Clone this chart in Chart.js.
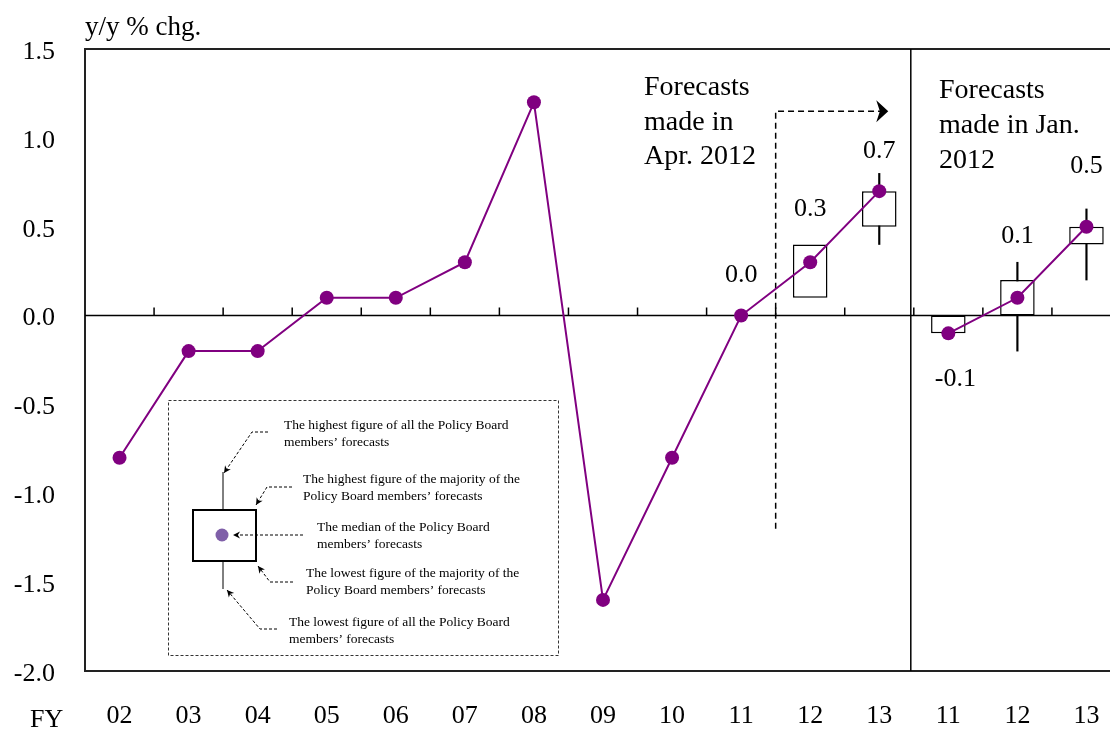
<!DOCTYPE html>
<html>
<head>
<meta charset="utf-8">
<script src="https://cdn.jsdelivr.net/npm/chart.js@4.4.0/dist/chart.umd.min.js"></script>
<style>
  html, body { margin: 0; padding: 0; background: #fff; overflow: hidden; }
  #wrap { width: 1121px; height: 731px; }
  #cpiChart { display: block; }
</style>
</head>
<body>
<div id="wrap"><canvas id="cpiChart" width="1121" height="731"></canvas></div>
<script>
// fiscal years (the last three are the Jan. 2012 forecasts)
const fiscalYears = ['02', '03', '04', '05', '06', '07', '08', '09', '10', '11', '12', '13', '11', '12', '13'];

// y/y % chg.: actuals, then medians of the Apr. 2012 forecasts
const aprMedian = [-0.8, -0.2, -0.2, 0.1, 0.1, 0.3, 1.2, -1.6, -0.8, 0.0, 0.3, 0.7, null, null, null];
// medians of the Jan. 2012 forecasts
const janMedian = [null, null, null, null, null, null, null, null, null, null, null, null, -0.1, 0.1, 0.5];

// range of the majority of the board members (box)
const majorityRange = [null, null, null, null, null, null, null, null, null, null,
  [0.1, 0.4], [0.5, 0.7], [-0.1, 0.0], [0.0, 0.2], [0.4, 0.5]];
// highest / lowest of all the board members (whisker)
const fullRange = [null, null, null, null, null, null, null, null, null, null,
  null, [0.4, 0.8], null, [-0.2, 0.3], [0.2, 0.6]];

// points that carry a value label
const labelled = [9, 10, 11, 12, 13, 14];

const yMin = -2.0, yMax = 1.5, yStep = 0.5;

// styling
const purple = '#800080';
const serif = "'Liberation Serif', 'Times New Roman', serif";
// how far the value label baseline sits above (+) or below (-) its point, px
const labelLift = { 9: 34, 10: 46, 11: 33, 12: -53, 13: 55, 14: 54 };

const keyLines = [
  ['The highest figure of all the Policy Board', 'members\u2019 forecasts'],
  ['The highest figure of the majority of the', 'Policy Board members\u2019 forecasts'],
  ['The median of the Policy Board', 'members\u2019 forecasts'],
  ['The lowest figure of the majority of the', 'Policy Board members\u2019 forecasts'],
  ['The lowest figure of all the Policy Board', 'members\u2019 forecasts']
];
const keyTextPos = [[116, 29], [135, 83], [149, 131], [138, 177], [121, 226]];
const keyArrows = [
  [[100, 32], [84, 32], [56, 73]],
  [[124, 87], [99, 87], [88, 105]],
  [[135, 135], [65, 135]],
  [[125, 182], [102, 182], [90, 166]],
  [[109, 229], [92, 229], [59, 190]]
];

function arrowHead(ctx, from, to, len, w) {
  const ang = Math.atan2(to[1] - from[1], to[0] - from[0]);
  ctx.save();
  ctx.translate(to[0], to[1]);
  ctx.rotate(ang);
  ctx.beginPath();
  ctx.moveTo(0, 0);
  ctx.lineTo(-len, -w);
  ctx.lineTo(-len * 0.7, 0);
  ctx.lineTo(-len, w);
  ctx.closePath();
  ctx.fill();
  ctx.restore();
}

function drawKey(ctx, ox, oy) {
  ctx.save();
  ctx.translate(ox, oy);
  ctx.strokeStyle = '#333';
  ctx.lineWidth = 1;
  ctx.setLineDash([3, 2]);
  ctx.strokeRect(0.5, 0.5, 390, 255);
  ctx.setLineDash([]);

  // sample box and whiskers
  ctx.strokeStyle = '#000';
  ctx.lineWidth = 1;
  ctx.beginPath();
  ctx.moveTo(55, 72); ctx.lineTo(55, 110);
  ctx.moveTo(55, 161); ctx.lineTo(55, 189);
  ctx.stroke();
  ctx.lineWidth = 2;
  ctx.strokeRect(25, 110, 63, 51);
  ctx.fillStyle = '#7f5fa8';
  ctx.beginPath();
  ctx.arc(54, 135, 6.5, 0, Math.PI * 2);
  ctx.fill();

  // dashed pointers
  ctx.strokeStyle = '#000';
  ctx.fillStyle = '#000';
  ctx.lineWidth = 1;
  keyArrows.forEach(pts => {
    ctx.setLineDash([3, 2]);
    ctx.beginPath();
    ctx.moveTo(pts[0][0], pts[0][1]);
    for (let i = 1; i < pts.length; i++) ctx.lineTo(pts[i][0], pts[i][1]);
    ctx.stroke();
    ctx.setLineDash([]);
    arrowHead(ctx, pts[pts.length - 2], pts[pts.length - 1], 7, 3.5);
  });

  // texts
  ctx.fillStyle = '#000';
  ctx.font = '13.5px ' + serif;
  ctx.textAlign = 'left';
  ctx.textBaseline = 'alphabetic';
  keyLines.forEach((lines, i) => {
    const [tx, ty] = keyTextPos[i];
    ctx.fillText(lines[0], tx, ty);
    ctx.fillText(lines[1], tx, ty + 17);
  });
  ctx.restore();
}

const decorations = {
  id: 'decorations',
  beforeDatasetsDraw(chart) {
    const { ctx, chartArea: a, scales: { x, y } } = chart;
    const half = (x.getPixelForValue(1) - x.getPixelForValue(0)) / 2;
    const y0 = y.getPixelForValue(0);
    ctx.save();

    // frame (no right edge, the plot runs off the page)
    ctx.strokeStyle = '#222';
    ctx.lineWidth = 2;
    ctx.beginPath();
    ctx.moveTo(a.right, a.top);
    ctx.lineTo(a.left, a.top);
    ctx.lineTo(a.left, a.bottom);
    ctx.lineTo(a.right, a.bottom);
    ctx.stroke();

    // zero line with tick marks between years
    ctx.strokeStyle = '#000';
    ctx.lineWidth = 1.5;
    ctx.beginPath();
    ctx.moveTo(a.left, y0);
    ctx.lineTo(a.right, y0);
    for (let i = 0; i < fiscalYears.length - 1; i++) {
      const bx = x.getPixelForValue(i) + half;
      ctx.moveTo(bx, y0);
      ctx.lineTo(bx, y0 - 8);
    }
    ctx.stroke();

    // divider between Apr. and Jan. forecasts
    const dx = x.getPixelForValue(11) + half - 3;
    ctx.beginPath();
    ctx.moveTo(dx, a.top);
    ctx.lineTo(dx, a.bottom);
    ctx.stroke();

    // dashed arrow: start of the forecast period
    const fx = x.getPixelForValue(9) + half;
    const fy = y.getPixelForValue(1.15);
    const tipX = x.getPixelForValue(11) + 9;
    ctx.setLineDash([6, 4]);
    ctx.lineWidth = 1.5;
    ctx.beginPath();
    ctx.moveTo(fx, y.getPixelForValue(-1.2));
    ctx.lineTo(fx, fy);
    ctx.lineTo(tipX - 8, fy);
    ctx.stroke();
    ctx.setLineDash([]);
    ctx.fillStyle = '#000';
    arrowHead(ctx, [fx, fy], [tipX, fy], 12, 11);
    ctx.restore();
  },
  afterDatasetsDraw(chart) {
    const { ctx, chartArea: a, scales: { x, y } } = chart;
    ctx.save();
    ctx.fillStyle = '#000';
    ctx.textBaseline = 'alphabetic';

    // value labels
    ctx.font = '26px ' + serif;
    ctx.textAlign = 'center';
    labelled.forEach(i => {
      const v = aprMedian[i] !== null ? aprMedian[i] : janMedian[i];
      const px = x.getPixelForValue(i);
      const py = y.getPixelForValue(v) - labelLift[i];
      ctx.fillText(v.toFixed(1), px + (v < 0 ? 7 : 0), py);
    });

    // axis captions
    ctx.textAlign = 'left';
    ctx.font = '27px ' + serif;
    ctx.fillText('y/y % chg.', a.left, a.top - 14);
    ctx.font = '26px ' + serif;
    ctx.fillText('FY', 30, 727);

    // period notes
    ctx.font = '28px ' + serif;
    ['Forecasts', 'made in', 'Apr. 2012'].forEach((t, k) => ctx.fillText(t, a.left + 559, a.top + 46 + k * 34.5));
    ['Forecasts', 'made in Jan.', '2012'].forEach((t, k) => ctx.fillText(t, a.left + 854, a.top + 49 + k * 35));

    drawKey(ctx, a.left + 83, a.top + 351);
    ctx.restore();
  }
};

new Chart(document.getElementById('cpiChart'), {
  type: 'bar',
  data: {
    labels: fiscalYears,
    datasets: [
      {
        type: 'line', data: aprMedian, borderColor: purple, backgroundColor: purple,
        borderWidth: 2, pointRadius: 7, pointHoverRadius: 7, pointBorderWidth: 0, order: 0
      },
      {
        type: 'line', data: janMedian, borderColor: purple, backgroundColor: purple,
        borderWidth: 2, pointRadius: 7, pointHoverRadius: 7, pointBorderWidth: 0, order: 0
      },
      {
        type: 'bar', data: majorityRange, backgroundColor: '#fff', borderColor: '#000',
        borderWidth: 1.5, borderSkipped: false, grouped: false,
        categoryPercentage: 1, barPercentage: 0.5, order: 1
      },
      {
        type: 'bar', data: fullRange, backgroundColor: '#000', barThickness: 1.5,
        grouped: false, order: 2
      }
    ]
  },
  options: {
    responsive: false,
    animation: false,
    events: [],
    devicePixelRatio: 1,
    layout: { autoPadding: false, padding: { top: 49, right: 0, bottom: 0, left: 0 } },
    plugins: { legend: { display: false }, tooltip: { enabled: false } },
    scales: {
      x: {
        // tick marks are hidden, their length only spaces the labels down
        grid: { display: false, drawTicks: true, tickLength: 30 },
        border: { display: false },
        ticks: { color: '#000', font: { family: serif, size: 26 }, padding: 0, maxRotation: 0, autoSkip: false },
        afterFit(scale) { scale.height = 60; }
      },
      y: {
        min: yMin, max: yMax,
        grid: { display: false, drawTicks: false },
        border: { display: false },
        ticks: {
          stepSize: yStep, color: '#000', padding: 30, labelOffset: 3,
          font: { family: serif, size: 26 },
          callback: v => v.toFixed(1)
        },
        afterFit(scale) { scale.width = 85; }
      }
    }
  },
  plugins: [decorations]
});
</script>
</body>
</html>
